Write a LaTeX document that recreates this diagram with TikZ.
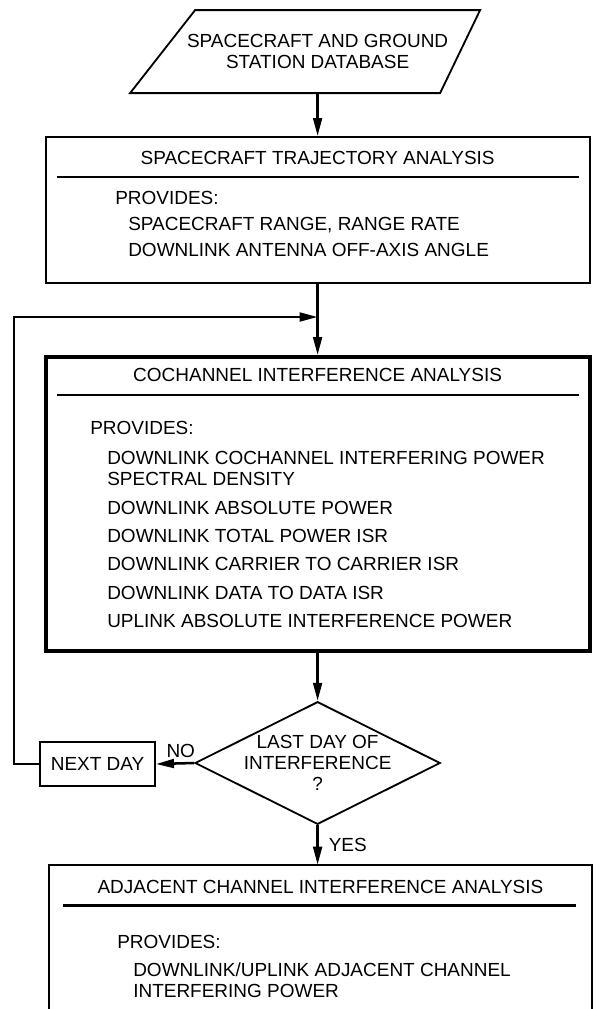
\documentclass[tikz,border=0pt]{standalone}
\usepackage{fontspec}
\setmainfont{Liberation Sans}
\usetikzlibrary{positioning, arrows.meta, shapes.geometric}

\begin{document}
\begin{tikzpicture}[
  every node/.style={font=\fontsize{13.5}{14.9}\selectfont},
  dbase/.style={align=center, inner sep=0pt},
  stage/.style={draw, line width=1.4pt, minimum width=13.6cm},
  heavy/.style={draw, line width=2.8pt, minimum width=13.6cm},
  test/.style={draw, line width=1.3pt, diamond, aspect=2, minimum width=6.125cm,
    minimum height=3.05cm, inner sep=-1.5pt, align=center},
  smallbox/.style={draw, line width=1.3pt, minimum width=2.875cm, minimum height=1.1cm},
  body/.style={anchor=north west, align=left, inner sep=0pt},
  hrule/.style={line width=2pt},
  arr/.style={-{Triangle[length=0.45cm, width=0.22cm]}, line width=1.8pt}
]
  \useasboundingbox (0,0) rectangle (15,-25.225);

  % Input database (slanted input box)
  \node[dbase] (db) at (7.94, -1.29) {SPACECRAFT AND GROUND\\STATION DATABASE};
  \draw[line width=1.3pt] ([shift={(-4.6875cm,-1.0375cm)}]db.center)
    -- ([shift={(-3.0625cm,1.0375cm)}]db.center)
    -- ([shift={(4.0625cm,1.0375cm)}]db.center)
    -- ([shift={(3.0625cm,-1.0375cm)}]db.center) -- cycle;
  \coordinate (dbfoot) at ([yshift=-1.0375cm]db.center);

  % Trajectory analysis
  \node[stage, minimum height=3.65cm] (traj) at (7.94, -5.25) {};
  \node (trajhead) at (7.94, -3.95) {SPACECRAFT TRAJECTORY ANALYSIS};
  \draw[hrule] ([shift={(0.3cm,-1.025cm)}]traj.north west) -- ([shift={(-0.3cm,-1.025cm)}]traj.north east);
  \node[body] (trajbody) at (2.875, -4.7625) {PROVIDES:\\[3.9pt]
    \hspace*{0.325cm}SPACECRAFT RANGE, RANGE RATE\\[3.9pt]
    \hspace*{0.325cm}DOWNLINK ANTENNA OFF-AXIS ANGLE};

  % Cochannel analysis (heavy frame)
  \node[heavy, minimum height=7.35cm] (coch) at (7.94, -12.6) {};
  \node (cochhead) at (7.94, -9.375) {COCHANNEL INTERFERENCE ANALYSIS};
  \draw[hrule] ([shift={(0.325cm,-1.0cm)}]coch.north west) -- ([shift={(-0.325cm,-1.0cm)}]coch.north east);
  \node[body] (cochbody) at (2.25, -10.53) {PROVIDES:\\[6.4pt]
    \hspace*{0.425cm}DOWNLINK COCHANNEL INTERFERING POWER\\
    \hspace*{0.425cm}SPECTRAL DENSITY\\[5.3pt]
    \hspace*{0.425cm}DOWNLINK ABSOLUTE POWER\\[5.3pt]
    \hspace*{0.425cm}DOWNLINK TOTAL POWER ISR\\[5.3pt]
    \hspace*{0.425cm}DOWNLINK CARRIER TO CARRIER ISR\\[5.3pt]
    \hspace*{0.425cm}DOWNLINK DATA TO DATA ISR\\[5.3pt]
    \hspace*{0.425cm}UPLINK ABSOLUTE INTERFERENCE POWER};

  % Decision and loop
  \node[test] (lastday) at (7.94, -19.075) {LAST DAY OF\\INTERFERENCE\\?};
  \node[smallbox] (nextday) at (2.44, -19.1) {NEXT DAY};
  \coordinate (merge) at (7.94, -7.925);

  % Adjacent channel analysis (runs off the page)
  \node[minimum width=13.575cm, minimum height=3.7cm] (adj) at (8.01, -23.475) {};
  \draw[line width=1.3pt] (adj.south west) -- (adj.north west) -- (adj.north east) -- (adj.south east);
  \node (adjhead) at (8.01, -22.175) {ADJACENT CHANNEL INTERFERENCE ANALYSIS};
  \draw[hrule] ([shift={(0.35cm,-1.025cm)}]adj.north west) -- ([shift={(-0.4cm,-1.025cm)}]adj.north east);
  \node[body] (adjbody) at (2.925, -23.38) {PROVIDES:\\[5pt]
    \hspace*{0.4cm}DOWNLINK/UPLINK ADJACENT CHANNEL\\
    \hspace*{0.4cm}INTERFERING POWER};

  % Connectors
  \draw[arr] (dbfoot) -- (traj.north);
  \draw[arr] (traj.south) -- (coch.north);
  \draw[arr] (nextday.west) -- ++(-0.625,0) |- (merge);
  \draw[arr] (coch.south) -- (lastday.north);
  \draw[arr] (lastday.west) -- (nextday.east) node[pos=0.35, above=0pt] {NO};
  \draw[arr] (lastday.south) -- (lastday.south |- adj.north) node[midway, right=0.13cm] {YES};
\end{tikzpicture}
\end{document}
